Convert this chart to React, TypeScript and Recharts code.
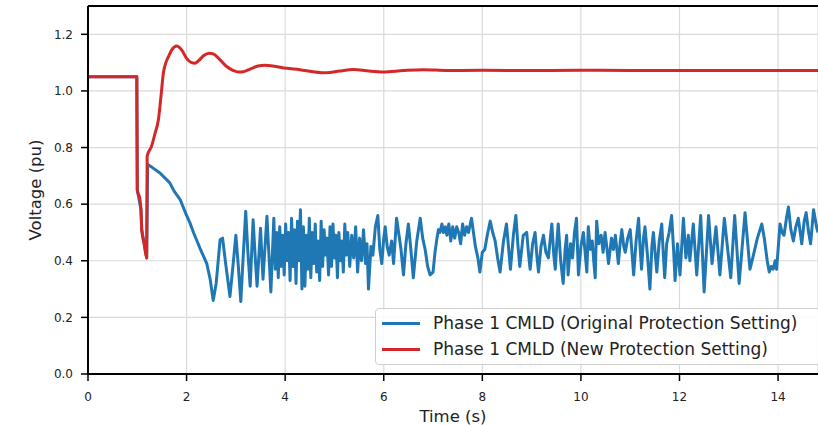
import React from 'react';
import { LineChart, Line, XAxis, YAxis, CartesianGrid, ReferenceLine, Legend } from 'recharts';

// time (s), voltage (pu)
const newSetting: [number, number][] = [
  [0, 1.05], [0.99, 1.05], [1.0, 0.65], [1.05, 0.62], [1.075, 0.58], [1.09, 0.51], [1.14, 0.46], [1.19, 0.41],
  [1.2, 0.77], [1.29, 0.805], [1.36, 0.85], [1.43, 0.9], [1.48, 0.98], [1.53, 1.064], [1.58, 1.1], [1.63, 1.12],
  [1.7, 1.145], [1.8, 1.159], [1.9, 1.145], [2.0, 1.115], [2.1, 1.1], [2.17, 1.098], [2.25, 1.108], [2.35, 1.125],
  [2.45, 1.133], [2.55, 1.13], [2.65, 1.115], [2.8, 1.088], [2.95, 1.072], [3.05, 1.067], [3.15, 1.068], [3.3, 1.078],
  [3.45, 1.088], [3.59, 1.091], [3.75, 1.088], [4.03, 1.08], [4.3, 1.075], [4.6, 1.067], [4.84, 1.064], [5.1, 1.07],
  [5.38, 1.076], [5.7, 1.07], [5.99, 1.067], [6.4, 1.072], [6.8, 1.075], [7.3, 1.072], [8, 1.073], [9, 1.072],
  [10, 1.073], [11, 1.072], [12, 1.072], [13, 1.072], [14, 1.072], [14.81, 1.072],
];

const originalSetting: [number, number][] = [
  [0, 1.05], [0.99, 1.05], [1.0, 0.65], [1.075, 0.58], [1.09, 0.51], [1.19, 0.41],
  [1.21, 0.74], [1.3, 0.73], [1.46, 0.71], [1.66, 0.675], [1.75, 0.645], [1.87, 0.616], [2.0, 0.56], [2.07, 0.533],
  [2.14, 0.5], [2.27, 0.445], [2.41, 0.39], [2.48, 0.333], [2.54, 0.26], [2.6, 0.32], [2.68, 0.474], [2.73, 0.48],
  [2.8, 0.38], [2.88, 0.274], [2.94, 0.38], [3.0, 0.49], [3.05, 0.38], [3.1, 0.256], [3.15, 0.42], [3.2, 0.575],
  [3.24, 0.44], [3.29, 0.31], [3.35, 0.545], [3.39, 0.42], [3.43, 0.31], [3.5, 0.515], [3.55, 0.335], [3.63, 0.557],
  [3.71, 0.29], [3.77, 0.55], [3.8, 0.37], [3.83, 0.5], [3.86, 0.34], [3.89, 0.52], [3.92, 0.38], [3.95, 0.49],
  [3.98, 0.35], [4.01, 0.53], [4.04, 0.4], [4.07, 0.5], [4.1, 0.33], [4.13, 0.55], [4.16, 0.38], [4.19, 0.51],
  [4.22, 0.32], [4.25, 0.54], [4.28, 0.4], [4.31, 0.58], [4.34, 0.3], [4.37, 0.52], [4.4, 0.31], [4.43, 0.49],
  [4.46, 0.37], [4.49, 0.55], [4.52, 0.34], [4.55, 0.5], [4.58, 0.39], [4.61, 0.53], [4.64, 0.36], [4.67, 0.47],
  [4.7, 0.33], [4.73, 0.54], [4.76, 0.38], [4.79, 0.51], [4.82, 0.42], [4.85, 0.48], [4.88, 0.35], [4.91, 0.52],
  [4.94, 0.38], [4.97, 0.53], [5.0, 0.41], [5.03, 0.49], [5.06, 0.34], [5.09, 0.5], [5.12, 0.4], [5.15, 0.47],
  [5.18, 0.36], [5.21, 0.53], [5.24, 0.42], [5.27, 0.5], [5.31, 0.38], [5.35, 0.49], [5.39, 0.41], [5.43, 0.52],
  [5.47, 0.36], [5.51, 0.48], [5.55, 0.4], [5.59, 0.51], [5.63, 0.39], [5.66, 0.46], [5.69, 0.3], [5.74, 0.45],
  [5.78, 0.42], [5.83, 0.52], [5.88, 0.56], [5.92, 0.44], [5.96, 0.39], [6.0, 0.48], [6.03, 0.52], [6.07, 0.45],
  [6.11, 0.42], [6.16, 0.47], [6.2, 0.39], [6.26, 0.55], [6.31, 0.49], [6.35, 0.44], [6.4, 0.35], [6.45, 0.46],
  [6.5, 0.53], [6.55, 0.44], [6.6, 0.34], [6.67, 0.47], [6.74, 0.55], [6.79, 0.48], [6.84, 0.44], [6.89, 0.38],
  [6.94, 0.35], [7.0, 0.36], [7.04, 0.43], [7.08, 0.48], [7.11, 0.51], [7.14, 0.5], [7.18, 0.53], [7.21, 0.5],
  [7.25, 0.52], [7.28, 0.49], [7.32, 0.53], [7.36, 0.47], [7.4, 0.52], [7.44, 0.48], [7.48, 0.52], [7.52, 0.5],
  [7.56, 0.46], [7.6, 0.53], [7.64, 0.49], [7.68, 0.52], [7.72, 0.5], [7.78, 0.55], [7.82, 0.5], [7.86, 0.45],
  [7.91, 0.41], [7.95, 0.36], [8.0, 0.43], [8.05, 0.44], [8.1, 0.49], [8.16, 0.54], [8.21, 0.5], [8.26, 0.47],
  [8.31, 0.41], [8.36, 0.36], [8.43, 0.47], [8.49, 0.53], [8.53, 0.45], [8.57, 0.37], [8.63, 0.49], [8.68, 0.56],
  [8.72, 0.46], [8.76, 0.38], [8.83, 0.49], [8.9, 0.5], [8.94, 0.42], [8.97, 0.37], [9.02, 0.46], [9.07, 0.5],
  [9.11, 0.41], [9.14, 0.36], [9.19, 0.45], [9.24, 0.49], [9.29, 0.43], [9.34, 0.41], [9.38, 0.48], [9.41, 0.53],
  [9.45, 0.42], [9.48, 0.37], [9.51, 0.46], [9.54, 0.53], [9.59, 0.4], [9.64, 0.32], [9.68, 0.44], [9.71, 0.49],
  [9.74, 0.35], [9.79, 0.46], [9.83, 0.41], [9.87, 0.5], [9.91, 0.55], [9.95, 0.35], [10.0, 0.45], [10.05, 0.5],
  [10.09, 0.42], [10.12, 0.36], [10.15, 0.52], [10.19, 0.44], [10.23, 0.47], [10.26, 0.4], [10.29, 0.34], [10.32, 0.54],
  [10.36, 0.46], [10.41, 0.49], [10.45, 0.43], [10.49, 0.5], [10.53, 0.44], [10.56, 0.39], [10.62, 0.48], [10.66, 0.44],
  [10.7, 0.49], [10.76, 0.39], [10.8, 0.47], [10.83, 0.51], [10.87, 0.45], [10.9, 0.43], [10.95, 0.48], [11.0, 0.51],
  [11.04, 0.42], [11.07, 0.35], [11.12, 0.47], [11.17, 0.55], [11.2, 0.45], [11.23, 0.37], [11.27, 0.48], [11.3, 0.52],
  [11.35, 0.42], [11.4, 0.3], [11.44, 0.45], [11.47, 0.5], [11.51, 0.42], [11.54, 0.36], [11.59, 0.47], [11.64, 0.53],
  [11.67, 0.43], [11.7, 0.34], [11.74, 0.46], [11.79, 0.5], [11.84, 0.56], [11.88, 0.44], [11.91, 0.33], [11.96, 0.46],
  [12.01, 0.35], [12.08, 0.55], [12.13, 0.41], [12.18, 0.49], [12.21, 0.4], [12.28, 0.53], [12.35, 0.35], [12.43, 0.56],
  [12.5, 0.29], [12.59, 0.56], [12.66, 0.39], [12.74, 0.52], [12.82, 0.35], [12.91, 0.55], [13.04, 0.34], [13.12, 0.56],
  [13.21, 0.32], [13.33, 0.57], [13.43, 0.37], [13.5, 0.42], [13.58, 0.48], [13.67, 0.53], [13.72, 0.48], [13.78, 0.4],
  [13.82, 0.36], [13.86, 0.38], [13.9, 0.37], [13.94, 0.4], [13.97, 0.37], [14.04, 0.53], [14.08, 0.5], [14.12, 0.49],
  [14.17, 0.55], [14.21, 0.59], [14.26, 0.51], [14.31, 0.47], [14.36, 0.52], [14.41, 0.55], [14.45, 0.5], [14.48, 0.46],
  [14.53, 0.54], [14.57, 0.57], [14.62, 0.5], [14.66, 0.46], [14.72, 0.58], [14.78, 0.52], [14.81, 0.5],
];

const seriesNames = ['Phase 1 CMLD (Original Protection Setting)', 'Phase 1 CMLD (New Protection Setting)'];
const xTicks = [0, 2, 4, 6, 8, 10, 12, 14];
const yTicks = [0, 0.2, 0.4, 0.6, 0.8, 1.0, 1.2];

const BLUE = '#1f77b4';
const RED = '#d62728';
const FONT = '"DejaVu Sans", sans-serif';

const toRows = (pts: [number, number][]) => pts.map(([t, v]) => ({ t, v }));

function LegendBox({ payload }: any) {
  const items = [...(payload || [])].sort(
    (a: any, b: any) => seriesNames.indexOf(a.value) - seriesNames.indexOf(b.value)
  );
  return (
    <div
      style={{
        border: '1px solid #cfcfcf',
        borderRadius: 4,
        background: 'rgba(255,255,255,0.85)',
        padding: '1px 0 2px 6px',
        fontFamily: FONT,
        fontSize: 17,
        color: '#222',
        width: 460,
        boxSizing: 'border-box',
      }}
    >
      {items.map((p: any) => (
        <div key={p.value} style={{ display: 'flex', alignItems: 'center', height: 26 }}>
          <span style={{ display: 'inline-block', width: 38, height: 3, background: p.color, marginRight: 13 }} />
          <span style={{ whiteSpace: 'nowrap' }}>{p.value}</span>
        </div>
      ))}
    </div>
  );
}

export default function App() {
  return (
    <div style={{ position: 'absolute', left: 0, top: 0, width: 818, height: 425, background: '#fff' }}>
      <LineChart width={818} height={425} margin={{ top: 6, right: 0, bottom: 1, left: 28 }}>
        <CartesianGrid stroke="#dadada" strokeWidth={1.2} />
        <XAxis
          type="number"
          dataKey="t"
          domain={[0, 14.81]}
          ticks={xTicks}
          allowDataOverflow
          height={50}
          tickSize={7}
          tickMargin={11}
          axisLine={{ stroke: '#000', strokeWidth: 2 }}
          tickLine={{ stroke: '#000', strokeWidth: 1.5 }}
          tick={{ fill: '#222', fontSize: 12, fontFamily: FONT }}
          label={{ value: 'Time (s)', position: 'insideBottom', offset: 2, style: { fontSize: 16.5, fill: '#222', fontFamily: FONT } }}
        />
        <YAxis
          type="number"
          domain={[0, 1.3]}
          ticks={yTicks}
          allowDataOverflow
          width={60}
          tickSize={7}
          tickMargin={8}
          tickFormatter={(v: number) => v.toFixed(1)}
          axisLine={{ stroke: '#000', strokeWidth: 2 }}
          tickLine={{ stroke: '#000', strokeWidth: 1.5 }}
          tick={{ fill: '#222', fontSize: 12, fontFamily: FONT }}
          label={{ value: 'Voltage (pu)', angle: -90, position: 'insideLeft', offset: 7, style: { textAnchor: 'middle', fontSize: 16.5, fill: '#222', fontFamily: FONT } }}
        />
        <ReferenceLine y={1.3} stroke="#000" strokeWidth={2} />
        <Line
          data={toRows(originalSetting)}
          dataKey="v"
          name={seriesNames[0]}
          stroke={BLUE}
          strokeWidth={3}
          strokeLinejoin="round"
          dot={false}
          type="linear"
          isAnimationActive={false}
        />
        <Line
          data={toRows(newSetting)}
          dataKey="v"
          name={seriesNames[1]}
          stroke={RED}
          strokeWidth={3}
          strokeLinejoin="round"
          dot={false}
          type="monotone"
          isAnimationActive={false}
        />
        <Legend
          layout="horizontal"
          verticalAlign="middle"
          align="center"
          content={<LegendBox />}
          wrapperStyle={{ left: 375, top: 308, width: 460 }}
        />
      </LineChart>
    </div>
  );
}
